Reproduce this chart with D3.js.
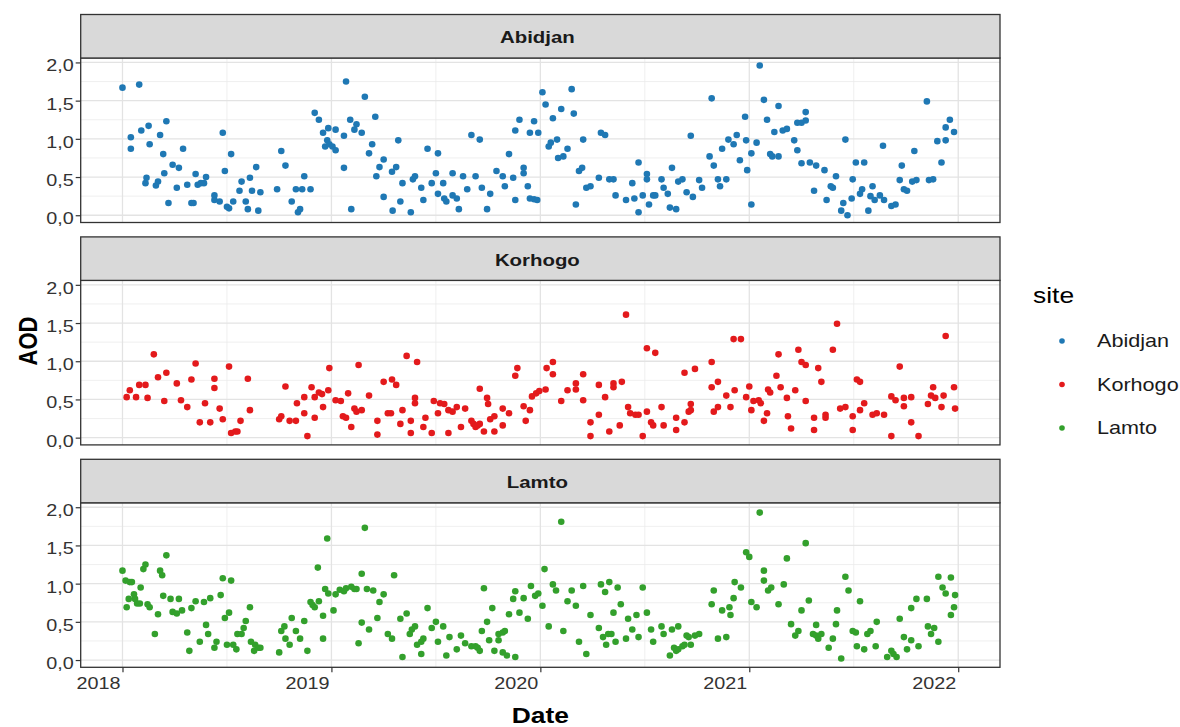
<!DOCTYPE html>
<html>
<head>
<meta charset="utf-8">
<script src="https://cdn.jsdelivr.net/npm/d3@7"></script>
<style>
  body { margin: 0; background: #fff; }
  svg { display: block; font-family: "Liberation Sans", Arial, sans-serif; }
</style>
</head>
<body>
<svg id="chart" width="1180" height="727"></svg>
<script>
// Sites, colours and axis breaks
const sites = ["Abidjan", "Korhogo", "Lamto"];
const siteColors = ["#1F78B4", "#E31A1C", "#33A02C"];
const yearTicks = [2018, 2019, 2020, 2021, 2022];
const yearMinor = [2018.5, 2019.5, 2020.5, 2021.5];
const aodTicks = [0, 0.5, 1, 1.5, 2];
const aodMinor = [0.25, 0.75, 1.25, 1.75];

// Observations: [date as decimal year, AOD]
const abidjan = [
  [2018.0,1.67],[2018.08,1.71],[2018.04,1.02],[2018.04,0.87],[2018.09,1.11],[2018.125,1.17],[2018.13,0.93],
  [2018.115,0.49],[2018.11,0.42],[2018.17,0.44],[2018.16,0.39],[2018.18,1.05],[2018.21,1.23],[2018.195,0.80],
  [2018.20,0.55],[2018.22,0.16],[2018.24,0.66],[2018.27,0.62],[2018.26,0.36],[2018.29,0.87],[2018.31,0.40],
  [2018.33,0.16],[2018.34,0.16],[2018.35,0.54],[2018.36,0.40],[2018.375,0.42],[2018.39,0.42],[2018.40,0.50],
  [2018.44,0.26],[2018.44,0.20],[2018.465,0.18],[2018.48,1.08],[2018.49,0.58],[2018.50,0.11],[2018.51,0.09],
  [2018.53,0.18],[2018.52,0.80],[2018.57,0.44],[2018.56,0.32],[2018.59,0.18],[2018.60,0.08],[2018.61,0.49],
  [2018.62,0.32],[2018.64,0.63],[2018.65,0.06],[2018.66,0.30],[2018.74,0.34],[2018.76,0.84],[2018.78,0.65],
  [2018.81,0.18],[2018.83,0.34],[2018.84,0.04],[2018.85,0.08],[2018.86,0.34],[2018.87,0.51],[2018.90,0.34],
  [2018.92,1.34],[2018.94,1.25],[2018.96,1.08],[2018.985,1.14],[2018.97,0.90],[2018.98,0.98],[2018.99,0.93],
  [2019.005,0.90],[2019.02,0.85],[2019.02,1.12],[2019.06,1.04],[2019.06,0.62],[2019.07,1.75],[2019.09,1.25],
  [2019.095,0.08],[2019.12,1.19],[2019.11,1.12],[2019.145,1.08],[2019.16,1.55],[2019.21,1.29],[2019.195,0.93],
  [2019.18,0.81],[2019.215,0.51],[2019.23,0.63],[2019.25,0.73],[2019.25,0.24],
  [2019.293,0.06],[2019.31,0.63],[2019.29,0.57],[2019.32,0.98],[2019.34,0.42],[2019.33,0.18],[2019.38,0.04],
  [2019.39,0.47],[2019.40,0.51],[2019.43,0.36],[2019.44,0.20],[2019.46,0.87],[2019.48,0.42],[2019.50,0.55],
  [2019.51,0.81],[2019.51,0.28],[2019.535,0.42],[2019.54,0.22],[2019.55,0.18],[2019.58,0.55],[2019.58,0.26],
  [2019.60,0.22],[2019.61,0.08],[2019.63,0.51],[2019.65,0.34],[2019.67,1.05],[2019.69,0.51],[2019.71,0.99],
  [2019.72,0.36],[2019.745,0.08],[2019.76,0.28],[2019.79,0.58],[2019.82,0.51],[2019.83,0.38],[2019.85,0.80],
  [2019.87,0.49],[2019.88,1.11],[2019.88,0.20],[2019.90,1.25],[2019.92,0.62],[2019.92,0.55],[2019.94,0.38],
  [2019.95,1.08],[2019.95,0.22],[2019.97,1.23],[2019.97,0.21],[2019.985,0.20],[2019.99,1.08],[2020.01,1.61],
  [2020.025,1.45],[2020.04,0.90],[2020.05,0.95],[2020.06,1.27],[2020.08,0.99],[2020.085,0.75],[2020.10,1.39],
  [2020.11,0.77],[2020.13,0.87],[2020.15,1.65],[2020.16,1.33],[2020.17,0.14],[2020.185,0.58],[2020.20,0.62],
  [2020.205,0.99],[2020.22,0.36],[2020.24,0.38],[2020.28,0.49],[2020.29,1.08],[2020.31,1.05],[2020.33,0.47],
  [2020.35,0.47],[2020.36,0.26],[2020.41,0.20],[2020.44,0.42],[2020.45,0.22],[2020.47,0.69],[2020.47,0.04],
  [2020.49,0.26],[2020.51,0.54],[2020.51,0.47],[2020.52,0.14],[2020.54,0.26],[2020.55,0.26],[2020.58,0.47],
  [2020.59,0.36],[2020.61,0.28],[2020.62,0.10],[2020.63,0.62],[2020.65,0.08],[2020.66,0.44],[2020.68,0.47],
  [2020.70,0.30],[2020.72,1.04],[2020.73,0.24],[2020.76,0.46],
  [2020.774,0.36],[2020.82,1.53],[2020.81,0.77],[2020.83,0.65],[2020.85,0.47],[2020.86,0.38],[2020.87,0.87],
  [2020.89,0.47],[2020.90,0.99],[2020.925,0.93],[2020.94,1.05],[2020.955,0.72],[2020.98,1.29],[2020.985,0.98],
  [2020.99,0.59],[2021.01,0.81],[2021.01,0.14],[2021.035,0.95],[2021.05,1.96],[2021.07,1.51],[2021.085,1.25],
  [2021.10,0.80],[2021.11,0.77],[2021.14,1.43],[2021.12,1.09],[2021.14,0.77],[2021.16,1.11],[2021.18,1.13],
  [2021.215,0.98],[2021.23,0.85],[2021.23,1.21],[2021.25,1.21],[2021.27,1.24],[2021.27,1.35],[2021.25,0.68],
  [2021.29,0.69],[2021.32,0.65],[2021.31,0.32],[2021.36,0.59],[2021.37,0.20],[2021.39,0.38],[2021.40,0.36],
  [2021.415,0.51],[2021.44,0.06],[2021.45,0.16],[2021.46,0.99],[2021.47,0.00],[2021.49,0.22],[2021.495,0.47],
  [2021.51,0.69],[2021.53,0.28],[2021.54,0.34],[2021.55,0.69],[2021.57,0.06],[2021.58,0.25],[2021.59,0.38],
  [2021.60,0.20],[2021.625,0.26],[2021.64,0.91],[2021.645,0.20],[2021.68,0.12],[2021.70,0.14],[2021.72,0.46],
  [2021.73,0.65],[2021.74,0.34],[2021.755,0.32],[2021.78,0.44],[2021.80,0.46],[2021.79,0.84],[2021.85,1.49],
  [2021.86,0.46],[2021.88,0.47],[2021.90,0.97],[2021.92,0.69],[2021.94,0.98],[2021.94,1.15],[2021.96,1.25],
  [2021.98,1.09]
];

const korhogo = [
  [2018.02,0.53],[2018.035,0.62],[2018.065,0.53],[2018.08,0.69],[2018.11,0.69],[2018.12,0.52],[2018.15,1.09],
  [2018.17,0.79],[2018.20,0.48],[2018.21,0.85],[2018.26,0.71],[2018.28,0.49],[2018.31,0.40],[2018.33,0.76],
  [2018.35,0.97],[2018.37,0.20],[2018.395,0.45],[2018.42,0.20],[2018.44,0.77],[2018.44,0.65],[2018.465,0.38],
  [2018.48,0.24],[2018.51,0.93],[2018.52,0.06],[2018.54,0.08],[2018.55,0.08],[2018.565,0.22],[2018.60,0.77],
  [2018.61,0.36],[2018.75,0.24],[2018.76,0.28],[2018.78,0.67],[2018.80,0.22],[2018.83,0.22],[2018.835,0.45],
  [2018.87,0.53],[2018.87,0.32],[2018.885,0.02],[2018.905,0.66],[2018.92,0.53],[2018.92,0.26],[2018.94,0.59],
  [2018.955,0.57],[2018.96,0.40],[2018.985,0.62],[2018.99,0.91],[2019.02,0.49],[2019.045,0.48],[2019.055,0.28],
  [2019.07,0.26],[2019.08,0.58],[2019.095,0.14],[2019.11,0.38],[2019.12,0.34],[2019.13,0.95],[2019.145,0.36],
  [2019.18,0.55],[2019.22,0.22],[2019.22,0.04],[2019.25,0.73],[2019.27,0.32],
  [2019.29,0.76],[2019.31,0.69],[2019.285,0.32],[2019.33,0.18],[2019.34,0.36],[2019.36,1.07],[2019.38,0.22],
  [2019.38,0.06],[2019.40,0.52],[2019.40,0.45],[2019.41,0.99],[2019.44,0.14],[2019.45,0.26],[2019.48,0.06],
  [2019.49,0.48],[2019.51,0.32],[2019.52,0.45],[2019.54,0.44],[2019.56,0.06],[2019.56,0.36],[2019.58,0.34],
  [2019.60,0.40],[2019.62,0.14],[2019.64,0.38],[2019.67,0.22],[2019.68,0.18],[2019.69,0.14],[2019.70,0.16],
  [2019.71,0.18],[2019.71,0.64],[2019.73,0.08],[2019.745,0.52],[2019.75,0.44],[2019.76,0.24],[2019.78,0.28],
  [2019.78,0.08],[2019.82,0.38],[2019.82,0.16],[2019.85,0.32],[2019.88,0.81],[2019.89,0.91],[2019.92,0.41],
  [2019.93,0.22],[2019.95,0.36],[2019.96,0.54],[2019.98,0.58],[2019.995,0.61],[2020.025,0.63],[2020.03,0.91],
  [2020.06,0.99],[2020.06,0.83],[2020.10,0.48],[2020.13,0.62],[2020.17,0.71],[2020.17,0.63],[2020.205,0.83],
  [2020.205,0.49],[2020.24,0.20],[2020.24,0.02],[2020.28,0.30],[2020.28,0.69],[2020.31,0.53],[2020.33,0.08],
  [2020.35,0.71],[2020.35,0.66],[2020.38,0.16],[2020.39,0.73],[2020.41,1.61],[2020.42,0.40],[2020.43,0.32],
  [2020.455,0.30],[2020.47,0.30],[2020.49,0.02],[2020.51,1.17],[2020.51,0.34],[2020.53,0.20],[2020.54,0.16],
  [2020.55,1.11],[2020.58,0.40],[2020.59,0.16],[2020.65,0.26],[2020.65,0.10],[2020.69,0.20],[2020.69,0.85],
  [2020.71,0.34],[2020.72,0.44],[2020.72,0.36],[2020.74,0.90],
  [2020.82,0.99],[2020.82,0.66],[2020.85,0.73],[2020.83,0.34],[2020.85,0.40],[2020.89,0.55],[2020.91,0.40],
  [2020.925,1.29],[2020.96,1.29],[2020.93,0.62],[2020.985,0.53],[2021.0,0.67],[2021.01,0.36],[2021.02,0.48],
  [2021.045,0.49],[2021.055,0.45],[2021.07,0.22],[2021.085,0.32],[2021.09,0.63],[2021.10,0.59],[2021.13,0.81],
  [2021.14,1.09],[2021.15,0.66],[2021.18,0.52],[2021.185,0.28],[2021.20,0.12],[2021.22,0.62],[2021.235,1.15],
  [2021.25,0.99],[2021.27,0.95],[2021.27,0.48],[2021.31,0.26],[2021.31,0.10],[2021.33,0.91],[2021.345,0.73],
  [2021.365,0.30],[2021.365,0.26],[2021.40,1.15],[2021.42,1.49],[2021.435,0.38],[2021.46,0.40],[2021.495,0.28],
  [2021.495,0.10],[2021.515,0.76],[2021.53,0.73],[2021.53,0.36],[2021.55,0.45],[2021.59,0.30],[2021.61,0.32],
  [2021.645,0.30],[2021.68,0.02],[2021.68,0.54],[2021.70,0.49],[2021.72,0.93],[2021.74,0.41],[2021.74,0.52],
  [2021.775,0.53],[2021.775,0.20],[2021.81,0.02],[2021.855,0.44],[2021.87,0.55],[2021.88,0.66],[2021.89,0.52],
  [2021.92,0.40],[2021.93,0.55],[2021.94,1.33],[2021.98,0.66],[2021.985,0.38]
];

const lamto = [
  [2018.0,1.17],[2018.015,1.04],[2018.035,1.02],[2018.045,1.02],[2018.02,0.69],[2018.03,0.80],[2018.055,0.86],
  [2018.06,0.80],[2018.07,0.74],[2018.083,0.74],[2018.087,0.95],[2018.10,1.19],[2018.11,1.25],[2018.12,0.73],
  [2018.13,0.69],[2018.155,0.34],[2018.17,0.60],[2018.18,1.17],[2018.19,1.11],[2018.21,1.37],[2018.195,0.84],
  [2018.23,0.80],[2018.24,0.63],[2018.26,0.61],[2018.27,0.80],[2018.285,0.65],[2018.31,0.36],[2018.32,0.12],
  [2018.33,0.68],[2018.35,0.77],[2018.37,0.24],[2018.39,0.76],[2018.40,0.46],[2018.41,0.34],[2018.42,0.81],
  [2018.44,0.16],[2018.45,0.24],[2018.47,0.85],[2018.48,1.07],[2018.49,0.55],[2018.51,0.62],[2018.50,0.20],
  [2018.52,1.04],[2018.53,0.20],[2018.545,0.14],[2018.55,0.34],[2018.57,0.34],[2018.58,0.42],[2018.59,0.51],
  [2018.61,0.69],[2018.615,0.24],[2018.63,0.12],[2018.635,0.20],[2018.65,0.16],[2018.66,0.16],[2018.75,0.10],
  [2018.76,0.38],[2018.775,0.44],[2018.78,0.28],[2018.80,0.20],[2018.81,0.55],[2018.83,0.38],[2018.85,0.28],
  [2018.87,0.51],[2018.885,0.12],[2018.90,0.76],[2018.91,0.72],[2018.92,0.69],[2018.935,1.21],[2018.94,0.77],
  [2018.96,0.58],[2018.96,0.28],[2018.97,0.93],[2018.98,1.59],[2018.985,0.87],[2019.01,0.65],[2019.02,0.86],
  [2019.04,0.92],[2019.06,0.90],[2019.07,0.94],[2019.095,0.96],[2019.11,0.93],[2019.12,0.93],[2019.145,1.13],
  [2019.145,0.49],[2019.13,0.22],[2019.16,1.73],[2019.17,0.93],[2019.18,0.40],[2019.20,0.91],[2019.22,0.55],
  [2019.23,0.76],[2019.25,0.86],[2019.27,0.34],
  [2019.29,0.28],[2019.30,1.11],[2019.33,0.54],[2019.34,0.04],[2019.36,0.61],[2019.375,0.34],[2019.385,0.40],
  [2019.40,0.44],[2019.41,0.20],[2019.43,0.08],[2019.43,0.24],[2019.44,0.28],[2019.46,0.68],[2019.48,0.42],
  [2019.50,0.50],[2019.51,0.24],[2019.535,0.44],[2019.55,0.06],[2019.565,0.30],[2019.60,0.14],[2019.62,0.32],
  [2019.64,0.22],[2019.67,0.18],[2019.69,0.18],[2019.70,0.16],[2019.71,0.12],[2019.72,0.38],[2019.73,0.94],
  [2019.745,0.50],[2019.755,0.26],[2019.77,0.68],[2019.78,0.12],[2019.80,0.26],[2019.80,0.34],[2019.82,0.36],
  [2019.83,0.38],[2019.82,0.10],[2019.84,0.06],[2019.85,0.60],[2019.87,0.80],[2019.88,0.04],[2019.88,0.90],
  [2019.90,0.62],[2019.92,0.81],[2019.94,0.54],[2019.955,0.97],[2019.975,0.84],[2019.99,0.87],[2020.01,0.71],
  [2020.02,1.19],[2020.04,0.44],[2020.06,0.99],[2020.075,0.91],[2020.10,1.81],[2020.11,0.38],[2020.13,0.77],
  [2020.15,0.91],[2020.17,0.71],[2020.185,0.24],[2020.205,0.97],[2020.22,0.08],[2020.24,0.59],[2020.28,0.42],
  [2020.29,0.99],[2020.30,0.30],[2020.31,0.89],[2020.315,0.20],[2020.325,0.34],[2020.33,1.02],[2020.34,0.34],
  [2020.35,0.62],[2020.36,0.24],[2020.37,0.95],[2020.385,0.73],[2020.41,0.28],[2020.42,0.54],[2020.44,0.40],
  [2020.46,0.59],[2020.47,0.30],[2020.49,0.95],[2020.51,0.62],[2020.53,0.40],[2020.54,0.24],[2020.58,0.44],
  [2020.59,0.34],[2020.62,0.06],[2020.63,0.40],[2020.64,0.16],[2020.65,0.12],[2020.66,0.44],[2020.66,0.14],
  [2020.68,0.18],[2020.69,0.20],[2020.70,0.32],[2020.71,0.30],[2020.72,0.20],[2020.74,0.32],[2020.76,0.34],
  [2020.82,0.73],[2020.83,0.91],[2020.85,0.28],[2020.87,0.65],[2020.89,0.30],[2020.905,0.69],[2020.91,0.59],
  [2020.925,0.81],[2020.93,1.02],[2020.96,0.95],[2020.985,1.41],[2021.0,1.35],[2021.01,0.76],[2021.035,0.69],
  [2021.05,1.93],[2021.07,1.17],[2021.07,1.04],[2021.09,0.91],[2021.105,0.95],[2021.14,0.73],[2021.165,0.99],
  [2021.18,1.33],[2021.20,0.47],[2021.22,0.32],[2021.235,0.38],[2021.25,0.65],[2021.27,1.53],[2021.285,0.78],
  [2021.305,0.34],[2021.32,0.46],[2021.32,0.32],[2021.33,0.28],[2021.345,0.34],[2021.38,0.16],[2021.40,0.28],
  [2021.415,0.47],[2021.42,0.65],[2021.44,0.02],[2021.46,1.09],[2021.475,0.91],[2021.495,0.38],[2021.51,0.36],
  [2021.515,0.18],[2021.53,0.77],[2021.55,0.14],[2021.565,0.34],[2021.58,0.38],[2021.605,0.18],[2021.61,0.50],
  [2021.66,0.04],[2021.68,0.12],[2021.69,0.08],[2021.705,0.04],[2021.72,0.54],[2021.74,0.30],[2021.755,0.14],
  [2021.775,0.26],[2021.775,0.68],[2021.80,0.80],[2021.81,0.18],[2021.85,0.80],[2021.855,0.44],[2021.87,0.34],
  [2021.885,0.42],[2021.905,0.24],[2021.905,1.09],[2021.925,0.95],[2021.94,0.87],[2021.965,1.08],[2021.985,0.85],
  [2021.98,0.69],[2021.965,0.59]
];

const siteData = [abidjan, korhogo, lamto];

// Layout
const panelLeft = 80.7, panelRight = 1000;
const stripTop0 = 14.5, stripH = 43.5, panelH = 164.5, pitch = 222.4;
const SX = 1.2; // horizontal widening of all text glyphs
const fmtAOD = v => d3.format(".1f")(v).replace(".", ",");

const svg = d3.select("#chart");
const x = d3.scaleLinear().domain([2017.8, 2022.2]).range([panelLeft, panelRight]);

// text placed at (tx, ty) and widened horizontally by SX
function label(parent, tx, ty, str, opts) {
  const t = parent.append("text")
    .attr("transform", `translate(${tx},${ty}) scale(${SX},1)`)
    .attr("text-anchor", opts.anchor || "start")
    .attr("dominant-baseline", "central")
    .attr("font-size", opts.size)
    .attr("font-weight", opts.weight || "normal")
    .attr("fill", opts.fill || "#000")
    .text(str);
  return t;
}

sites.forEach((site, i) => {
  const stripTop = stripTop0 + i * pitch;
  const top = stripTop + stripH;
  const bottom = top + panelH;
  const y = d3.scaleLinear().domain([-0.095, 2.058]).range([bottom, top]);
  const g = svg.append("g");

  // grid
  g.selectAll(".ymin").data(aodMinor).join("line")
    .attr("x1", panelLeft).attr("x2", panelRight)
    .attr("y1", d => y(d)).attr("y2", d => y(d))
    .attr("stroke", "#EBEBEB").attr("stroke-width", 0.8);
  g.selectAll(".xmin").data(yearMinor).join("line")
    .attr("x1", d => x(d)).attr("x2", d => x(d))
    .attr("y1", top).attr("y2", bottom)
    .attr("stroke", "#EBEBEB").attr("stroke-width", 0.8);
  g.selectAll(".ymaj").data(aodTicks).join("line")
    .attr("x1", panelLeft).attr("x2", panelRight)
    .attr("y1", d => y(d)).attr("y2", d => y(d))
    .attr("stroke", "#E3E3E3").attr("stroke-width", 1.3);
  g.selectAll(".xmaj").data(yearTicks).join("line")
    .attr("x1", d => x(d)).attr("x2", d => x(d))
    .attr("y1", top).attr("y2", bottom)
    .attr("stroke", "#E3E3E3").attr("stroke-width", 1.3);

  // points
  g.selectAll("circle").data(siteData[i]).join("circle")
    .attr("cx", d => x(d[0])).attr("cy", d => y(d[1]))
    .attr("r", 3.3).attr("fill", siteColors[i]);

  // border
  g.append("rect").attr("x", panelLeft).attr("y", top)
    .attr("width", panelRight - panelLeft).attr("height", panelH)
    .attr("fill", "none").attr("stroke", "#333333").attr("stroke-width", 1.3);

  // strip
  g.append("rect").attr("x", panelLeft).attr("y", stripTop)
    .attr("width", panelRight - panelLeft).attr("height", stripH)
    .attr("fill", "#D9D9D9").attr("stroke", "#333333").attr("stroke-width", 1.3);
  label(g, (panelLeft + panelRight) / 2 - 3, stripTop + stripH / 2 + 1, site,
        { anchor: "middle", size: 17, weight: "bold", fill: "#1A1A1A" });

  // y axis ticks
  const yAxis = d3.axisLeft(y).tickValues(aodTicks).tickSize(5).tickFormat("");
  const ya = g.append("g").attr("transform", `translate(${panelLeft},0)`).call(yAxis);
  ya.select(".domain").remove();
  ya.selectAll(".tick line").attr("stroke", "#333333").attr("stroke-width", 1.2);
  aodTicks.forEach(v => label(g, panelLeft - 7, y(v) + 3.5, fmtAOD(v),
        { anchor: "end", size: 16.5, fill: "#333333" }));

  if (i === sites.length - 1) {
    const xAxis = d3.axisBottom(x).tickValues(yearTicks).tickSize(5).tickFormat("");
    const xa = g.append("g").attr("transform", `translate(0,${bottom})`).call(xAxis);
    xa.select(".domain").remove();
    xa.selectAll(".tick line").attr("stroke", "#333333").attr("stroke-width", 1.2);
    yearTicks.forEach(v => label(g, x(v) - 24, bottom + 16, String(v),
        { anchor: "middle", size: 16.5, fill: "#333333" }));
  }
});

// axis titles
label(svg, (panelLeft + panelRight) / 2, 715, "Date", { anchor: "middle", size: 22, weight: "bold" });
svg.append("g").attr("transform", `translate(28,341) scale(${SX},1)`)
  .append("text").attr("transform", "rotate(-90)")
  .attr("text-anchor", "middle").attr("dominant-baseline", "central")
  .attr("font-size", 22).attr("font-weight", "bold").text("AOD");

// legend
const legend = svg.append("g");
label(legend, 1033, 295, "site", { size: 22 });
sites.forEach((site, i) => {
  const cy = 341 + i * 43.5;
  legend.append("circle").attr("cx", 1062).attr("cy", cy).attr("r", 2.8).attr("fill", siteColors[i]);
  label(legend, 1097, cy, site, { size: 18, fill: "#1A1A1A" });
});
</script>
</body>
</html>
